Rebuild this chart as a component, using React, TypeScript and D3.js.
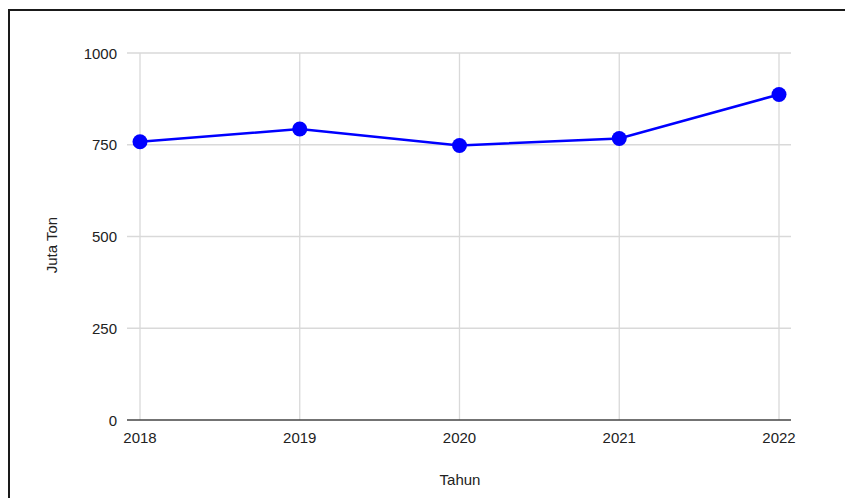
import React from 'react';
import * as d3 from 'd3';

const years = [2018, 2019, 2020, 2021, 2022];
const values = [758, 793, 748, 767, 887];
const yTicks = [0, 250, 500, 750, 1000];

const W = 845;
const H = 498;
const FONT = '"Liberation Sans", Arial, sans-serif';

const App = () => {
  const x = d3.scaleLinear().domain([2018, 2022]).range([140, 779]);
  const y = d3.scaleLinear().domain([0, 1000]).range([420, 53]);
  const gridLeft = 127;
  const gridRight = 791;

  const line = d3
    .line<number>()
    .x((_, i) => x(years[i]))
    .y((d) => y(d));

  return (
    <div style={{ position: 'fixed', left: 0, top: 0, background: '#fff' }}>
      <svg width={W} height={H} viewBox={`0 0 ${W} ${H}`} style={{ display: 'block' }}>
        <rect x={0} y={0} width={W} height={H} fill="#fff" />
        <rect x={9} y={10} width={W + 50} height={H + 50} fill="none" stroke="#1a1a1a" strokeWidth={2} />

        {/* grid */}
        <g className="grid">
          {yTicks.filter((t) => t !== 0).map((t) => (
            <line key={t} x1={gridLeft} x2={gridRight} y1={y(t)} y2={y(t)} stroke="#d9d9d9" strokeWidth={1.3} />
          ))}
          {years.map((yr) => (
            <line key={yr} x1={x(yr)} x2={x(yr)} y1={y(1000)} y2={y(0)} stroke="#d9d9d9" strokeWidth={1.3} />
          ))}
          <line x1={gridLeft} x2={gridRight} y1={y(0)} y2={y(0)} stroke="#444" strokeWidth={1.5} />
        </g>

        {/* y ticks */}
        <g fontFamily={FONT} fontSize={15} fill="#222">
          {yTicks.map((t) => (
            <text key={t} x={117} y={y(t)} textAnchor="end" dominantBaseline="central">
              {t}
            </text>
          ))}
          {years.map((yr) => (
            <text key={yr} x={x(yr)} y={443} textAnchor="middle">
              {yr}
            </text>
          ))}
          <text x={460} y={485} textAnchor="middle">Tahun</text>
          <text transform="translate(57,245) rotate(-90)" textAnchor="middle">Juta Ton</text>
        </g>

        {/* series */}
        <path d={line(values) || ''} fill="none" stroke="#0000ff" strokeWidth={2.5} />
        {values.map((v, i) => (
          <circle key={i} cx={x(years[i])} cy={y(v)} r={7.5} fill="#0000ff" />
        ))}
      </svg>
    </div>
  );
};

export default App;
